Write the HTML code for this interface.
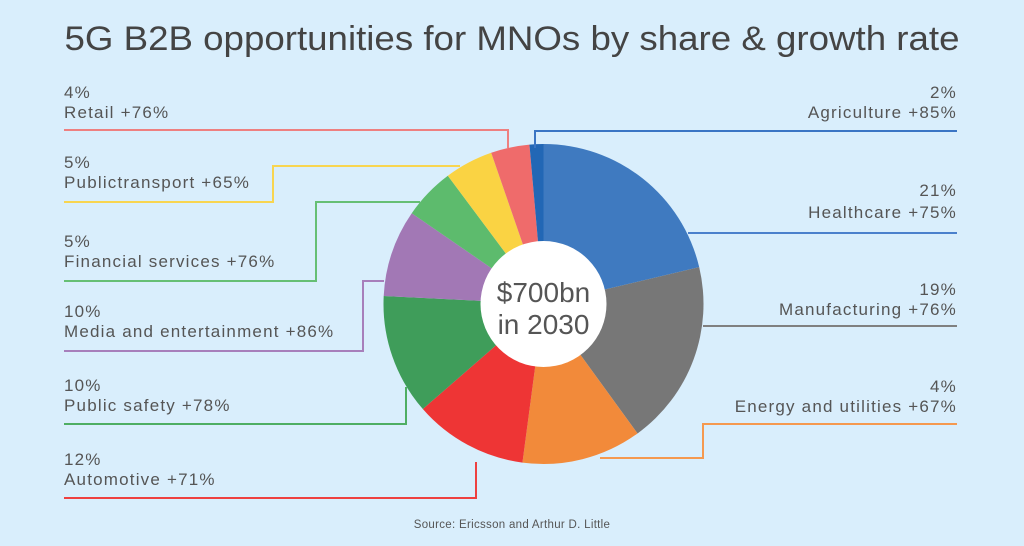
<!DOCTYPE html>
<html><head><meta charset="utf-8"><style>
html,body{margin:0;padding:0;width:1024px;height:546px;overflow:hidden;background:#d9eefc}
svg{display:block}
text{font-family:"Liberation Sans",sans-serif;fill:#555}
</style></head><body>
<svg id="chart" width="1024" height="546" viewBox="0 0 1024 546">
<rect width="1024" height="546" fill="#d9eefc"/>
<text x="512" y="50" text-anchor="middle" font-size="34" textLength="895" lengthAdjust="spacingAndGlyphs" style="fill:#444">5G B2B opportunities for MNOs by share &amp; growth rate</text>
<g id="slices"></g>
<circle cx="543.5" cy="304" r="63" fill="#fff"/>
<text x="543.5" y="302" text-anchor="middle" font-size="28" style="fill:#555">$700bn</text>
<text x="543.5" y="334" text-anchor="middle" font-size="28" style="fill:#555">in 2030</text>
<g id="labels"></g>
<text x="512" y="528" text-anchor="middle" font-size="11.5" letter-spacing="0.3" style="fill:#555">Source: Ericsson and Arthur D. Little</text>
</svg>
<script>
// Data (clockwise from top)
const categories = ["Healthcare","Manufacturing","Energy and utilities","Automotive","Public safety","Media and entertainment","Financial services","Publictransport","Retail","Agriculture"];
const shareLabels = ["21%","19%","4%","12%","10%","10%","5%","5%","4%","2%"];
const growthLabels = ["+75%","+76%","+67%","+71%","+78%","+86%","+76%","+65%","+76%","+85%"];
// drawn slice weights (%)
const sliceWeights = [21.3,18.7,12.1,11.5,12.2,8.8,5.2,4.9,3.9,1.4];
const colors = ["#3f7ac0","#777777","#f28a3a","#ee3535","#3f9d5a","#a278b5","#5dbb6d","#fad343","#ef6b6b","#2267b5"];
const lineColors = ["#4a80cc","#808080","#f5994f","#ee4040","#4fae63","#a77fbb","#66bf74","#f8d550","#ee8080","#3a75c4"];

const NS="http://www.w3.org/2000/svg";
const cx=543.5, cy=304, R=160;
const total=sliceWeights.reduce((a,b)=>a+b,0);
function angleOf(v){return v/total*2*Math.PI;}
function pt(a,r){return [cx+r*Math.sin(a), cy-r*Math.cos(a)];}
const sg=document.getElementById('slices');
let acc=0;
sliceWeights.forEach((w,i)=>{
  const a0=angleOf(acc), a1=angleOf(acc+w); acc+=w;
  const p0=pt(a0,R), p1=pt(a1,R);
  const large=(a1-a0)>Math.PI?1:0;
  const p=document.createElementNS(NS,'path');
  p.setAttribute('d',`M${cx},${cy} L${p0[0]},${p0[1]} A${R},${R} 0 ${large} 1 ${p1[0]},${p1[1]} Z`);
  p.setAttribute('fill',colors[i]);
  
  
  sg.appendChild(p);
});

const layout = [
 ["r",196,218,[[688,233],[957,233]]],
 ["r",295,315,[[703,326],[957,326]]],
 ["r",392,412,[[600,458],[703,458],[703,424],[957,424]]],
 ["l",465,485,[[476,462],[476,498],[64,498]]],
 ["l",391,411,[[406,387],[406,424],[64,424]]],
 ["l",317,337,[[384,281],[363,281],[363,351],[64,351]]],
 ["l",247,267,[[420,202],[316,202],[316,281],[64,281]]],
 ["l",168,188,[[460,166],[273,166],[273,202],[64,202]]],
 ["l",98,118,[[508,148],[508,130],[64,130]]],
 ["r",98,118,[[535,148],[535,131],[957,131]]]
];
const lg=document.getElementById('labels');
categories.forEach((c,i)=>{
  const L=layout[i];
  const g=document.createElementNS(NS,'g');
  
  
  const pl=document.createElementNS(NS,'polyline');
  pl.setAttribute('points',L[3].map(p=>p.join(',')).join(' '));
  pl.setAttribute('fill','none');
  pl.setAttribute('stroke',lineColors[i]);
  pl.setAttribute('stroke-width','2');
  
  
  g.appendChild(pl);
  const x=L[0]==="l"?64:957, anchor=L[0]==="l"?"start":"end";
  const t1=document.createElementNS(NS,'text');
  t1.setAttribute('x',x);t1.setAttribute('y',L[1]);t1.setAttribute('text-anchor',anchor);t1.setAttribute('font-size','17');t1.setAttribute('letter-spacing','1.2');
  t1.textContent=shareLabels[i];
  
  
  g.appendChild(t1);
  const t2=document.createElementNS(NS,'text');
  t2.setAttribute('x',x);t2.setAttribute('y',L[2]);t2.setAttribute('text-anchor',anchor);t2.setAttribute('font-size','17');t2.setAttribute('letter-spacing','1.2');
  t2.textContent=c+" "+growthLabels[i];
  
  
  g.appendChild(t2);
  lg.appendChild(g);
});
</script>
</body></html>
